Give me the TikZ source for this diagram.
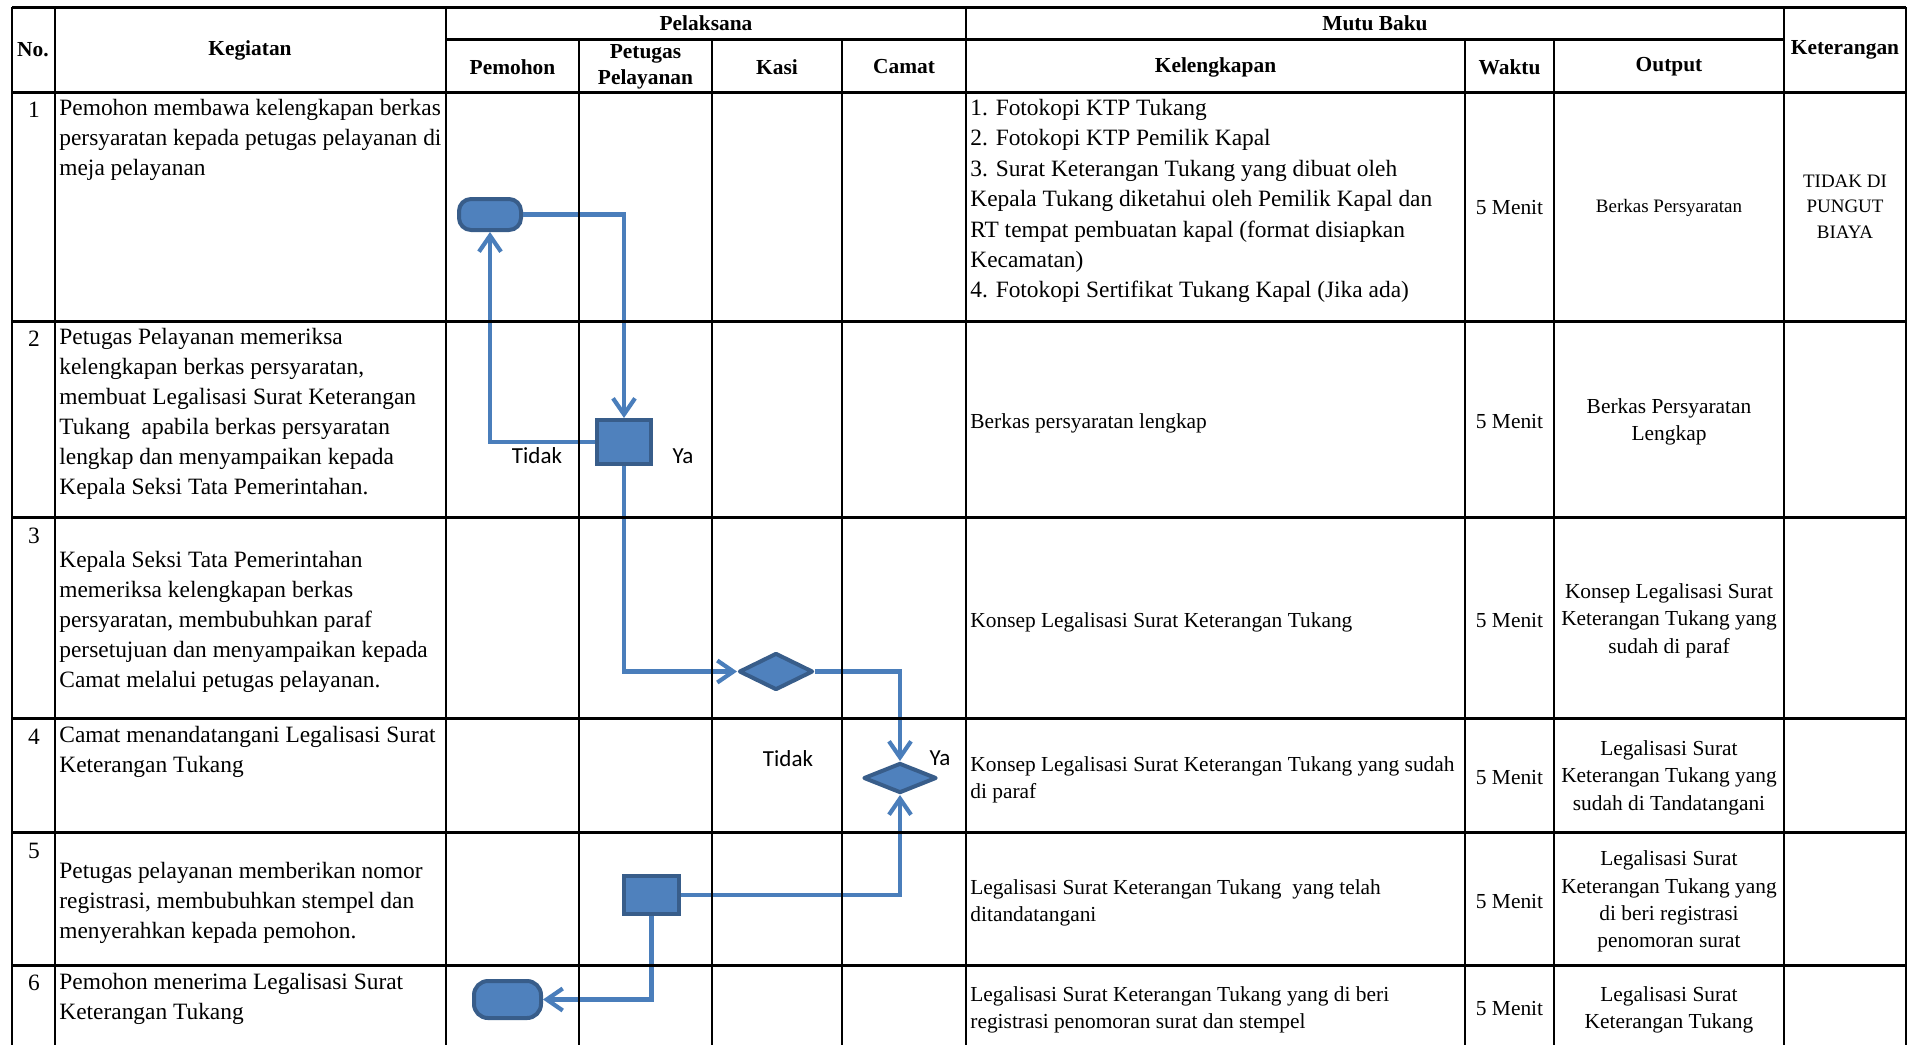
\documentclass[tikz,border=0pt]{standalone}
\usepackage{fontspec}
\setmainfont{Liberation Serif}
\newfontfamily\calibri{Carlito}
\usepackage{tikz}
\usetikzlibrary{arrows.meta,shapes.geometric}
\definecolor{sopfill}{RGB}{79,129,189}
\definecolor{sopedge}{RGB}{56,93,138}
\definecolor{sopline}{RGB}{74,126,187}
\tikzstyle{flow} = [line width=2.1pt,->,>={Straight Barb[length=8pt,width=11pt]},color=sopline]
\tikzstyle{rowline} = [line width=1.5pt]
\tikzstyle{colline} = [line width=1pt]
\tikzstyle{hdr} = [font=\fontsize{10.7}{13}\selectfont\bfseries, align=center, inner sep=0pt]
\tikzstyle{num} = [font=\fontsize{11.7}{15}\selectfont, inner sep=0pt, yshift=-1.5pt]
\tikzstyle{keg} = [anchor=west, align=left, font=\fontsize{11.7}{15}\selectfont, inner sep=0pt, yshift=-1.5pt]
\tikzstyle{kel} = [anchor=west, align=left, font=\fontsize{10.7}{13.5}\selectfont, inner sep=0pt, yshift=-1.5pt]
\tikzstyle{mid} = [align=center, font=\fontsize{10.7}{13.7}\selectfont, inner sep=0pt, yshift=-0.8pt]
\tikzstyle{lbl} = [font=\calibri\fontsize{11.5}{13}\selectfont, inner sep=0pt]
\tikzstyle{terminal} = [rectangle, rounded corners=6pt, draw=sopedge, fill=sopfill, line width=2pt, inner sep=0pt]
\tikzstyle{process} = [rectangle, draw=sopedge, fill=sopfill, line width=2pt, inner sep=0pt]
\tikzstyle{decision} = [diamond, draw=sopedge, fill=sopfill, line width=2pt, line join=round, inner sep=0pt]

\begin{document}
\begin{tikzpicture}[x=0.5pt, y=-0.5pt]
    \useasboundingbox (0,0) rectangle (1914,1045);

    % Header
    \node[hdr] (hno) at (33,50) {No.};
    \node[hdr] (hkeg) at (250,50) {Kegiatan};
    \node[hdr] (hpel) at (706,23) {Pelaksana};
    \node[hdr] (hmutu) at (1375,23) {Mutu Baku};
    \node[hdr] (hket) at (1845,50) {Keterangan};
    \node[hdr] (hpem) at (512.5,67) {Pemohon};
    \node[hdr] (hpet) at (645.5,67) {Petugas\\Pelayanan};
    \node[hdr] (hkasi) at (777,67) {Kasi};
    \node[hdr] (hcamat) at (904,67) {Camat};
    \node[hdr] (hkel) at (1215.5,67) {Kelengkapan};
    \node[hdr] (hwaktu) at (1509.5,67) {Waktu};
    \node[hdr] (hout) at (1669,67) {Output};

    % Row numbers
    \node[num] (n1) at (34,107) {1};
    \node[num] (n2) at (34,336) {2};
    \node[num] (n3) at (34,533) {3};
    \node[num] (n4) at (34,734) {4};
    \node[num] (n5) at (34,848) {5};
    \node[num] (n6) at (34,980) {6};

    % Kegiatan
    \node[keg] (keg1) at (59,137) {Pemohon membawa kelengkapan berkas\\persyaratan kepada petugas pelayanan di\\meja pelayanan};
    \node[keg] (keg2) at (59,411) {Petugas Pelayanan memeriksa\\kelengkapan berkas persyaratan,\\membuat Legalisasi Surat Keterangan\\Tukang\ \ apabila berkas persyaratan\\lengkap dan menyampaikan kepada\\Kepala Seksi Tata Pemerintahan.};
    \node[keg] (keg3) at (59,619) {Kepala Seksi Tata Pemerintahan\\memeriksa kelengkapan berkas\\persyaratan, membubuhkan paraf\\persetujuan dan menyampaikan kepada\\Camat melalui petugas pelayanan.};
    \node[keg] (keg4) at (59,749) {Camat menandatangani Legalisasi Surat\\Keterangan Tukang};
    \node[keg] (keg5) at (59,900) {Petugas pelayanan memberikan nomor\\registrasi, membubuhkan stempel dan\\menyerahkan kepada pemohon.};
    \node[keg] (keg6) at (59,995.5) {Pemohon menerima Legalisasi Surat\\Keterangan Tukang};

    % Kelengkapan
    \node[kel, font=\fontsize{11.7}{15.2}\selectfont] (kel1) at (970,198) {1. Fotokopi KTP Tukang\\2. Fotokopi KTP Pemilik Kapal\\3. Surat Keterangan Tukang yang dibuat oleh\\Kepala Tukang diketahui oleh Pemilik Kapal dan\\RT tempat pembuatan kapal (format disiapkan\\Kecamatan)\\4. Fotokopi Sertifikat Tukang Kapal (Jika ada)};
    \node[kel] (kel2) at (970,420) {Berkas persyaratan lengkap};
    \node[kel] (kel3) at (970,619) {Konsep Legalisasi Surat Keterangan Tukang};
    \node[kel] (kel4) at (970,776.5) {Konsep Legalisasi Surat Keterangan Tukang yang sudah\\di paraf};
    \node[kel] (kel5) at (970,900) {Legalisasi Surat Keterangan Tukang\ \ yang telah\\ditandatangani};
    \node[kel] (kel6) at (970,1007) {Legalisasi Surat Keterangan Tukang yang di beri\\registrasi penomoran surat dan stempel};

    % Waktu
    \node[mid] (w1) at (1509.5,206) {5 Menit};
    \node[mid] (w2) at (1509.5,420) {5 Menit};
    \node[mid] (w3) at (1509.5,619) {5 Menit};
    \node[mid] (w4) at (1509.5,776) {5 Menit};
    \node[mid] (w5) at (1509.5,900) {5 Menit};
    \node[mid] (w6) at (1509.5,1007) {5 Menit};

    % Output
    \node[mid, font=\fontsize{9.5}{12.5}\selectfont] (out1) at (1669,206) {Berkas Persyaratan};
    \node[mid] (out2) at (1669,420) {Berkas Persyaratan\\Lengkap};
    \node[mid] (out3) at (1669,619) {Konsep Legalisasi Surat\\Keterangan Tukang yang\\sudah di paraf};
    \node[mid] (out4) at (1669,776) {Legalisasi Surat\\Keterangan Tukang yang\\sudah di Tandatangani};
    \node[mid] (out5) at (1669,900) {Legalisasi Surat\\Keterangan Tukang yang\\di beri registrasi\\penomoran surat};
    \node[mid] (out6) at (1669,1008) {Legalisasi Surat\\Keterangan Tukang};

    % Keterangan
    \node[mid, font=\fontsize{9.5}{12.8}\selectfont] (ket1) at (1845,205) {TIDAK DI\\PUNGUT\\BIAYA};

    % Flow shapes
    \node[terminal, minimum width=31pt, minimum height=15.5pt] (start) at (490,214.5) {};
    \node[process, minimum width=27pt, minimum height=22pt] (cek) at (624,442) {};
    \node[decision, minimum width=37pt, minimum height=18.5pt] (paraf) at (776,671.5) {};
    \node[decision, minimum width=36.5pt, minimum height=15pt] (ttd) at (900,778) {};
    \node[process, minimum width=27.5pt, minimum height=19pt] (reg) at (651.5,895) {};
    \node[terminal, rounded corners=7pt, minimum width=33.5pt, minimum height=18.5pt] (finish) at (507.5,999.5) {};

    % Flow labels
    \node[lbl] (tidak1) at (537,456) {Tidak};
    \node[lbl] (ya1) at (683,456) {Ya};
    \node[lbl] (tidak2) at (788,759) {Tidak};
    \node[lbl] (ya2) at (940,758) {Ya};

    % Connecting lines
    \draw[flow] (start.east) -| (cek.north);
    \draw[flow] (cek.west) -| (start.south);
    \draw[flow] (cek.south) |- (paraf.west);
    \draw[flow] (paraf.east) -| (ttd.north);
    \draw[flow] (reg.east) -| (ttd.south);
    \draw[flow] (reg.south) |- (finish.east);

    % Table grid
    \draw[colline] (12,7) -- (12,1045);
    \draw[colline] (54.5,7) -- (54.5,1045);
    \draw[colline] (446,7) -- (446,1045);
    \draw[colline] (579,39) -- (579,1045);
    \draw[colline] (712,39) -- (712,1045);
    \draw[colline] (842,39) -- (842,1045);
    \draw[colline] (966,7) -- (966,1045);
    \draw[colline] (1465,39) -- (1465,1045);
    \draw[colline] (1554,39) -- (1554,1045);
    \draw[colline] (1784,7) -- (1784,1045);
    \draw[colline] (1906,7) -- (1906,1045);
    \draw[rowline] (12,7) -- (1906,7);
    \draw[rowline] (446,39) -- (1784,39);
    \draw[rowline] (12,92) -- (1906,92);
    \draw[rowline] (12,321) -- (1906,321);
    \draw[rowline] (12,517) -- (1906,517);
    \draw[rowline] (12,718) -- (1906,718);
    \draw[rowline] (12,832) -- (1906,832);
    \draw[rowline] (12,965) -- (1906,965);
\end{tikzpicture}
\end{document}
